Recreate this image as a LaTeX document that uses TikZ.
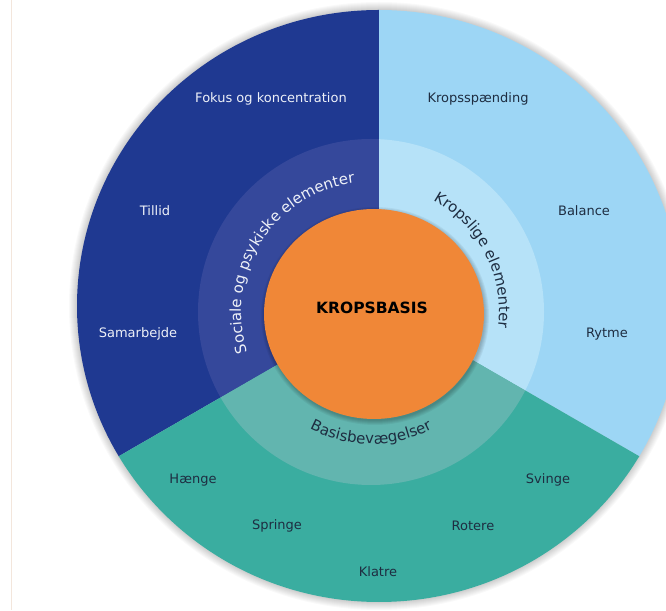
\documentclass[tikz,border=0pt]{standalone}
\usepackage{fontspec}
\setmainfont{DejaVu Sans}
\usetikzlibrary{calc,decorations.text}
\definecolor{sdark}{HTML}{1F3991}
\definecolor{rdark}{HTML}{35489B}
\definecolor{slight}{HTML}{9DD6F5}
\definecolor{rlight}{HTML}{B6E2F8}
\definecolor{steal}{HTML}{3AADA0}
\definecolor{rteal}{HTML}{62B5AF}
\definecolor{corange}{HTML}{F08737}
\definecolor{tdark}{HTML}{1E2D41}
\definecolor{tlight}{HTML}{EEF1F8}
\definecolor{edgeline}{HTML}{F3E6DC}
\begin{document}
\begin{tikzpicture}[x=1pt,y=1pt,
  lbl/.style={font=\fontsize{13}{15}\selectfont, inner sep=0pt},
  lblw/.style={lbl, text=tlight},
  lbld/.style={lbl, text=tdark},
  corelbl/.style={font=\bfseries\fontsize{15.5}{18}\selectfont, text=black, inner sep=0pt}]
\useasboundingbox (0,0) rectangle (666,610);
\clip (0,0) rectangle (666,610);
\fill[white] (0,0) rectangle (666,610);
\coordinate (top) at (11,610);
\coordinate (bot) at (11,0);
\draw[edgeline, line width=1pt] (top) -- (bot);
\coordinate (S) at (379,304);
\coordinate (R) at (371,298);
\coordinate (O) at (374,296);
% soft shadow of the wheel
\foreach \i in {1,...,8}
  \fill[black, opacity=0.025] (S) ellipse [x radius={(302+\i)*1pt}, y radius={(296+\i)*1pt}];
\begin{scope}
  \clip (S) ellipse [x radius=302pt, y radius=296pt];
  \fill[sdark] (S) -- ($(S)+(90:700pt)$) -- ($(S)+(150:700pt)$) -- ($(S)+(210:700pt)$) -- cycle;
  \fill[slight] (S) -- ($(S)+(-30:700pt)$) -- ($(S)+(30:700pt)$) -- ($(S)+(90:700pt)$) -- cycle;
  \fill[steal] (S) -- ($(S)+(210:700pt)$) -- ($(S)+(270:700pt)$) -- ($(S)+(330:700pt)$) -- cycle;
  \clip (R) circle [radius=173pt];
  \fill[rdark] (S) -- ($(S)+(90:700pt)$) -- ($(S)+(150:700pt)$) -- ($(S)+(210:700pt)$) -- cycle;
  \fill[rlight] (S) -- ($(S)+(-30:700pt)$) -- ($(S)+(30:700pt)$) -- ($(S)+(90:700pt)$) -- cycle;
  \fill[rteal] (S) -- ($(S)+(210:700pt)$) -- ($(S)+(270:700pt)$) -- ($(S)+(330:700pt)$) -- cycle;
\end{scope}
% orange core with shadow
\foreach \i in {1,...,5}
  \fill[black, opacity=0.05] ($(O)+(1pt,-2pt)$) ellipse [x radius={(109+\i)*1pt}, y radius={(104+\i)*1pt}];
\fill[corange] (O) ellipse [x radius=110pt, y radius=105pt];
\node[corelbl] (kb) at (372,302) {KROPSBASIS};
% curved ring texts
\path[decorate, decoration={text along path, text align=center,
  text={|\fontsize{15}{17}\selectfont\color{tlight}|Sociale og psykiske elementer}}]
  ($(R)+(227.5:130pt)$) arc[start angle=227.5, end angle=67.5, radius=130pt];
\path[decorate, decoration={text along path, text align=center,
  text={|\fontsize{15}{17}\selectfont\color{tdark}|Kropslige elementer}}]
  ($(R)+(97:128pt)$) arc[start angle=97, end angle=-43, radius=128pt];
\path[decorate, decoration={text along path, text align=center,
  text={|\fontsize{15}{17}\selectfont\color{tdark}|Basisbevægelser}}]
  ($(R)+(200:132pt)$) arc[start angle=200, end angle=340, radius=132pt];
% outer labels
\node[lblw] (fok) at (271,511) {Fokus og koncentration};
\node[lblw] (til) at (155,399) {Tillid};
\node[lblw] (sam) at (138,276) {Samarbejde};
\node[lbld] (kro) at (478,511) {Kropsspænding};
\node[lbld] (bal) at (584,399) {Balance};
\node[lbld] (ryt) at (607,276) {Rytme};
\node[lbld] (hae) at (193,130) {Hænge};
\node[lbld] (spr) at (277,84) {Springe};
\node[lbld] (kla) at (378,38) {Klatre};
\node[lbld] (rot) at (473,84) {Rotere};
\node[lbld] (svi) at (548,130) {Svinge};
\end{tikzpicture}
\end{document}
